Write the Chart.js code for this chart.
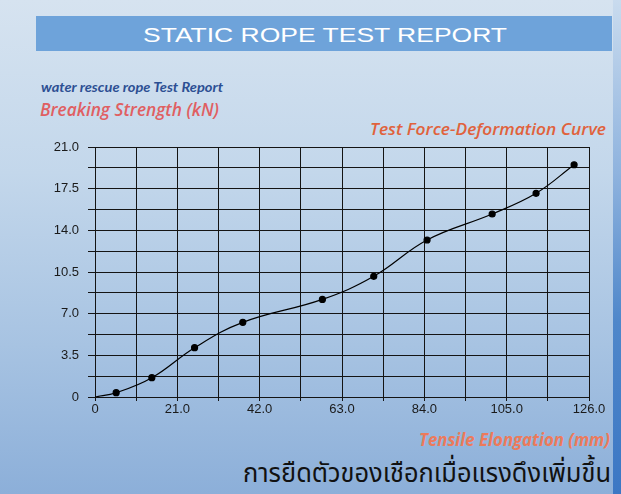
<!DOCTYPE html>
<html>
<head>
<meta charset="utf-8">
<script src="https://cdn.jsdelivr.net/npm/chart.js@4.4.1/dist/chart.umd.min.js"></script>
<style>
  html, body { margin: 0; padding: 0; }
  body {
    width: 621px; height: 494px; overflow: hidden; position: relative;
    background: linear-gradient(to bottom, #d6e3f0 0%, #c3d7eb 35%, #a7c3e2 70%, #8cafd9 100%);
  }
  #strip {
    position: absolute; left: 613px; top: 0; width: 8px; height: 494px;
    background: linear-gradient(to bottom, #c9dbee 0%, #8fb3de 35%, #4f87ca 65%, #3c77c4 100%);
  }
  #banner {
    position: absolute; left: 36px; top: 16px; width: 576px; height: 35px;
    background: #6ea3da;
  }
  .txt { position: absolute; white-space: nowrap; line-height: 1; }
  #chartBox { position: absolute; left: 0; top: 0; width: 621px; height: 494px; }
</style>
</head>
<body>
<div id="strip"></div>
<div id="banner"></div>
<div class="txt" id="tTitle" style="font: 20px 'Liberation Sans', Arial, sans-serif; color: #fff;">STATIC ROPE TEST REPORT</div>
<div class="txt" id="tSub" style="font: italic bold 13px Lato, 'Open Sans', sans-serif; color: #2c4f93;">water rescue rope Test Report</div>
<div class="txt" id="tYName" style="font: italic 600 18px 'Open Sans', Lato, sans-serif; color: #e05f62;">Breaking Strength (kN)</div>
<div class="txt" id="tCurve" style="font: italic 600 17px 'Open Sans', Lato, sans-serif; color: #e0623c;">Test Force-Deformation Curve</div>
<div class="txt" id="tXName" style="font: italic bold 17px 'Open Sans', Lato, sans-serif; color: #ec7a5b;">Tensile Elongation (mm)</div>
<div class="txt" id="tThai" style="font: 27px 'Noto Sans Thai', 'Noto Sans', 'DejaVu Sans', sans-serif; color: #111;">การยืดตัวของเชือกเมื่อแรงดึงเพิ่มขึ้น</div>
<div id="chartBox"><canvas id="chart" width="621" height="494"></canvas></div>

<script>
// ─── Data ─────────────────────────────────────────────────────────────────────
const elongation  = [0, 5.4, 14.5, 25.4, 37.7, 58.0, 71.1, 84.7, 101.3, 112.5, 122.2];
const force       = [0, 0.36, 1.62, 4.14, 6.27, 8.2, 10.14, 13.19, 15.37, 17.11, 19.51];
const xTickLabels = ['0', '21.0', '42.0', '63.0', '84.0', '105.0', '126.0'];
const yTickLabels = ['0', '3.5', '7.0', '10.5', '14.0', '17.5', '21.0'];

// ─── Text placement (left edge, baseline, target width) ──────────────────────
function placeText(id, left, baseline, width) {
  const el = document.getElementById(id);
  const mark = document.createElement('span');
  mark.style.cssText = 'display:inline-block;width:0;height:0;vertical-align:baseline;';
  el.appendChild(mark);
  el.style.left = left + 'px';
  el.style.top = '0px';
  const w = el.getBoundingClientRect().width;
  el.style.top = (baseline - mark.offsetTop) + 'px';
  el.style.transformOrigin = 'left top';
  el.style.transform = `scaleX(${width / w})`;
}

placeText('tTitle', 143, 42, 364);
placeText('tSub',   41,  92, 182);
placeText('tYName', 40,  116, 179);
placeText('tCurve', 370, 135, 236);
placeText('tXName', 419, 446, 191);
placeText('tThai',  243, 482, 368);

// ─── Chart ────────────────────────────────────────────────────────────────────
const tickFont = { family: "'Liberation Sans', Arial, sans-serif", size: 13 };

new Chart(document.getElementById('chart'), {
  type: 'line',
  data: {
    datasets: [{
      data: elongation.map((x, i) => ({ x, y: force[i] })),
      borderColor: '#000',
      borderWidth: 1.2,
      backgroundColor: '#000',
      pointRadius: (ctx) => ctx.dataIndex === 0 ? 0 : 3,
      pointHoverRadius: 3,
      tension: 0.4,
      fill: false,
    }],
  },
  options: {
    responsive: false,
    animation: false,
    layout: { padding: { left: 0, right: 32, top: 147, bottom: 67 } },
    plugins: { legend: { display: false }, tooltip: { enabled: false } },
    scales: {
      x: {
        type: 'linear',
        min: 0, max: 126,
        afterFit: (s) => { s.height = 30; },
        grid:   { color: '#141414', lineWidth: 1, tickLength: 4 },
        border: { color: '#141414' },
        ticks:  {
          stepSize: 10.5, autoSkip: false, maxRotation: 0, padding: 1,
          color: '#1a1a1a', font: tickFont,
          callback: (v, i) => i % 2 === 0 ? xTickLabels[i / 2] : '',
        },
      },
      y: {
        min: 0, max: 21,
        afterFit: (s) => { s.width = 95; },
        grid:   { color: '#141414', lineWidth: 1, tickLength: 7 },
        border: { color: '#141414' },
        ticks:  {
          stepSize: 1.75, autoSkip: false, padding: 9,
          color: '#1a1a1a', font: tickFont,
          callback: (v, i) => i % 2 === 0 ? yTickLabels[i / 2] : '',
        },
      },
    },
  },
});
</script>
</body>
</html>
